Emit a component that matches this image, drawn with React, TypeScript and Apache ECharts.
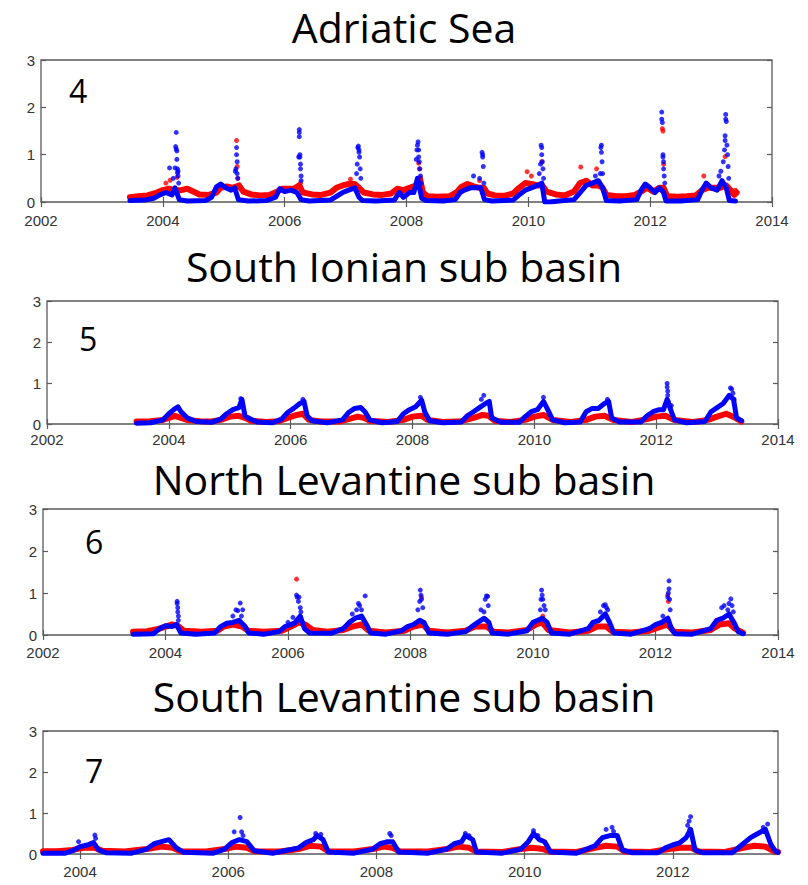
import React, { useEffect, useRef } from "react";
import * as echarts from "echarts";

type P = [number, number];

const panelTitles = ["Adriatic Sea", "South Ionian sub basin", "North Levantine sub basin", "South Levantine sub basin"];
const panelNumbers = ["4", "5", "6", "7"];
const yearTicksFull = [2002, 2004, 2006, 2008, 2010, 2012, 2014];
const yearTicksLast = [2004, 2006, 2008, 2010, 2012];

// ---- Adriatic Sea (4) ----
const adriaticRedBand: P[] = [[2003.46,0.1],[2003.6,0.12],[2003.75,0.14],[2003.9,0.2],[2004.0,0.25],[2004.1,0.28],[2004.2,0.25],[2004.3,0.25],[2004.4,0.28],[2004.5,0.22],[2004.6,0.16],[2004.75,0.15],[2004.88,0.2],[2004.95,0.3],[2005.05,0.33],[2005.15,0.3],[2005.25,0.35],[2005.32,0.22],[2005.45,0.16],[2005.6,0.14],[2005.75,0.15],[2005.88,0.22],[2005.95,0.28],[2006.05,0.28],[2006.15,0.28],[2006.24,0.35],[2006.3,0.2],[2006.45,0.16],[2006.6,0.15],[2006.75,0.2],[2006.85,0.3],[2006.95,0.35],[2007.05,0.38],[2007.15,0.38],[2007.22,0.3],[2007.3,0.2],[2007.45,0.16],[2007.6,0.15],[2007.75,0.18],[2007.85,0.28],[2007.95,0.25],[2008.05,0.3],[2008.15,0.35],[2008.22,0.5],[2008.27,0.2],[2008.35,0.12],[2008.5,0.11],[2008.7,0.12],[2008.82,0.2],[2008.9,0.32],[2009.0,0.38],[2009.1,0.33],[2009.2,0.3],[2009.27,0.3],[2009.33,0.18],[2009.45,0.14],[2009.6,0.13],[2009.75,0.18],[2009.85,0.3],[2009.95,0.4],[2010.05,0.38],[2010.15,0.35],[2010.23,0.35],[2010.3,0.22],[2010.45,0.16],[2010.6,0.14],[2010.75,0.22],[2010.85,0.4],[2010.95,0.45],[2011.05,0.35],[2011.15,0.35],[2011.22,0.3],[2011.28,0.15],[2011.45,0.12],[2011.6,0.12],[2011.75,0.15],[2011.85,0.22],[2011.95,0.3],[2012.05,0.22],[2012.15,0.3],[2012.22,0.3],[2012.28,0.12],[2012.45,0.11],[2012.6,0.12],[2012.75,0.14],[2012.85,0.25],[2012.95,0.3],[2013.05,0.3],[2013.15,0.3],[2013.25,0.35],[2013.32,0.25],[2013.38,0.15],[2013.42,0.2]];
const adriaticBlueBand: P[] = [[2003.46,0.03],[2003.7,0.04],[2003.85,0.08],[2003.95,0.15],[2004.05,0.2],[2004.15,0.15],[2004.2,0.3],[2004.27,0.05],[2004.4,0.02],[2004.7,0.03],[2004.8,0.1],[2004.88,0.32],[2004.95,0.38],[2005.03,0.3],[2005.12,0.25],[2005.18,0.3],[2005.24,0.05],[2005.4,0.02],[2005.7,0.03],[2005.85,0.1],[2005.92,0.28],[2006.0,0.22],[2006.1,0.25],[2006.2,0.2],[2006.27,0.05],[2006.4,0.02],[2006.75,0.04],[2006.85,0.12],[2006.95,0.2],[2007.05,0.25],[2007.15,0.3],[2007.22,0.1],[2007.28,0.03],[2007.5,0.02],[2007.8,0.04],[2007.88,0.2],[2007.95,0.1],[2008.05,0.2],[2008.12,0.2],[2008.18,0.5],[2008.25,0.08],[2008.32,0.03],[2008.6,0.02],[2008.8,0.05],[2008.88,0.2],[2008.95,0.25],[2009.05,0.3],[2009.15,0.3],[2009.22,0.3],[2009.28,0.05],[2009.4,0.02],[2009.75,0.04],[2009.85,0.15],[2009.95,0.25],[2010.05,0.3],[2010.15,0.35],[2010.22,0.4],[2010.27,0.0],[2010.35,0.0],[2010.5,0.02],[2010.75,0.05],[2010.85,0.2],[2010.95,0.35],[2011.05,0.4],[2011.15,0.45],[2011.22,0.3],[2011.28,0.03],[2011.5,0.02],[2011.78,0.05],[2011.85,0.25],[2011.92,0.38],[2012.0,0.3],[2012.08,0.2],[2012.15,0.3],[2012.22,0.2],[2012.26,0.02],[2012.5,0.02],[2012.78,0.05],[2012.85,0.25],[2012.92,0.4],[2013.0,0.3],[2013.1,0.25],[2013.18,0.45],[2013.25,0.3],[2013.3,0.03],[2013.4,0.02]];
const adriaticRedDots: P[] = [[2004.05,0.4],[2004.12,0.46],[2004.23,0.52],[2005.21,1.3],[2005.22,0.75],[2005.23,0.5],[2006.26,0.4],[2007.08,0.48],[2008.2,0.82],[2008.21,0.7],[2009.2,0.45],[2009.98,0.64],[2010.05,0.55],[2010.22,0.85],[2010.86,0.74],[2011.12,0.7],[2012.2,1.55],[2012.21,1.5],[2012.22,0.8],[2012.88,0.55],[2013.23,0.96],[2013.4,0.25]];
const adriaticBlueDots: P[] = [[2004.11,0.72],[2004.17,0.5],[2004.2,0.72],[2004.21,1.17],[2004.22,1.47],[2004.22,1.12],[2004.23,1.08],[2004.23,0.9],[2004.24,0.7],[2004.24,0.62],[2004.25,0.55],[2004.25,0.65],[2004.26,0.4],[2005.19,0.65],[2005.2,0.7],[2005.21,1.15],[2005.21,1.0],[2005.22,0.85],[2005.22,0.6],[2005.23,0.5],[2006.23,0.95],[2006.24,1.53],[2006.24,1.47],[2006.24,1.38],[2006.25,1.0],[2006.25,0.95],[2006.26,0.8],[2006.26,0.7],[2006.27,0.55],[2006.27,0.45],[2007.18,0.6],[2007.19,0.8],[2007.2,1.15],[2007.21,1.18],[2007.22,1.1],[2007.22,1.05],[2007.23,0.95],[2007.24,0.7],[2007.25,0.5],[2008.16,0.9],[2008.17,1.1],[2008.18,1.2],[2008.19,1.27],[2008.2,1.1],[2008.2,0.95],[2008.21,0.85],[2008.22,0.7],[2008.23,0.55],[2008.24,0.4],[2009.1,0.55],[2009.2,0.5],[2009.24,1.05],[2009.25,1.0],[2009.25,0.95],[2009.26,0.75],[2009.27,0.4],[2010.18,0.6],[2010.2,0.8],[2010.21,1.2],[2010.22,1.15],[2010.22,1.0],[2010.23,0.85],[2010.24,0.7],[2010.25,0.5],[2011.1,0.55],[2011.18,0.6],[2011.19,1.15],[2011.2,1.2],[2011.2,1.05],[2011.21,0.85],[2011.22,0.6],[2012.19,1.9],[2012.19,1.75],[2012.2,1.68],[2012.21,1.0],[2012.21,0.95],[2012.22,0.85],[2012.22,0.7],[2012.23,0.55],[2012.24,0.4],[2013.13,0.55],[2013.16,0.65],[2013.2,0.85],[2013.22,1.1],[2013.23,1.3],[2013.23,1.4],[2013.24,1.75],[2013.24,1.85],[2013.25,1.7],[2013.26,1.2],[2013.27,1.0],[2013.28,0.75],[2013.29,0.5]];

// ---- South Ionian sub basin (5) ----
const ionianRedBand: P[] = [[2003.47,0.06],[2003.7,0.07],[2003.9,0.1],[2004.0,0.15],[2004.1,0.2],[2004.2,0.15],[2004.3,0.1],[2004.5,0.07],[2004.7,0.06],[2004.85,0.1],[2005.0,0.18],[2005.15,0.2],[2005.25,0.15],[2005.35,0.08],[2005.6,0.05],[2005.8,0.07],[2005.95,0.15],[2006.1,0.22],[2006.2,0.25],[2006.3,0.1],[2006.5,0.06],[2006.8,0.06],[2006.95,0.12],[2007.1,0.18],[2007.2,0.15],[2007.3,0.08],[2007.6,0.05],[2007.85,0.1],[2008.0,0.18],[2008.15,0.2],[2008.25,0.1],[2008.5,0.05],[2008.8,0.07],[2009.0,0.15],[2009.15,0.22],[2009.25,0.2],[2009.35,0.08],[2009.6,0.05],[2009.85,0.1],[2010.0,0.18],[2010.15,0.22],[2010.3,0.1],[2010.6,0.05],[2010.85,0.1],[2011.0,0.18],[2011.15,0.2],[2011.3,0.1],[2011.6,0.05],[2011.85,0.12],[2012.0,0.18],[2012.15,0.2],[2012.3,0.1],[2012.6,0.05],[2012.85,0.1],[2013.0,0.18],[2013.15,0.25],[2013.3,0.15],[2013.4,0.06]];
const ionianBlueBand: P[] = [[2003.47,0.02],[2003.7,0.03],[2003.9,0.1],[2004.0,0.25],[2004.08,0.35],[2004.15,0.42],[2004.2,0.3],[2004.3,0.15],[2004.45,0.06],[2004.7,0.04],[2004.85,0.12],[2004.95,0.25],[2005.05,0.35],[2005.15,0.4],[2005.2,0.6],[2005.25,0.2],[2005.3,0.15],[2005.45,0.05],[2005.7,0.03],[2005.85,0.12],[2005.95,0.28],[2006.05,0.38],[2006.15,0.5],[2006.22,0.55],[2006.27,0.2],[2006.35,0.08],[2006.6,0.03],[2006.85,0.1],[2006.95,0.28],[2007.05,0.38],[2007.15,0.4],[2007.22,0.3],[2007.3,0.1],[2007.5,0.03],[2007.75,0.06],[2007.85,0.25],[2007.95,0.35],[2008.05,0.42],[2008.15,0.58],[2008.2,0.3],[2008.28,0.08],[2008.5,0.03],[2008.8,0.05],[2008.9,0.2],[2009.0,0.3],[2009.1,0.4],[2009.2,0.5],[2009.26,0.55],[2009.3,0.15],[2009.45,0.04],[2009.75,0.04],[2009.85,0.18],[2009.95,0.3],[2010.05,0.35],[2010.15,0.55],[2010.22,0.35],[2010.3,0.1],[2010.5,0.03],[2010.75,0.05],[2010.85,0.3],[2010.95,0.38],[2011.05,0.38],[2011.15,0.5],[2011.22,0.55],[2011.27,0.15],[2011.4,0.05],[2011.75,0.05],[2011.85,0.2],[2011.95,0.3],[2012.05,0.35],[2012.12,0.35],[2012.18,0.6],[2012.25,0.3],[2012.3,0.1],[2012.5,0.03],[2012.8,0.06],[2012.9,0.3],[2013.0,0.4],[2013.1,0.5],[2013.2,0.7],[2013.27,0.6],[2013.32,0.15],[2013.4,0.08]];
const ionianRedDots: P[] = [];
const ionianBlueDots: P[] = [[2005.18,0.62],[2006.2,0.6],[2008.13,0.65],[2009.13,0.6],[2009.17,0.7],[2010.15,0.65],[2011.2,0.6],[2012.18,0.99],[2012.18,0.9],[2012.19,0.8],[2012.19,0.7],[2012.2,0.55],[2012.25,0.45],[2013.22,0.88],[2013.24,0.85],[2013.26,0.75],[2013.28,0.6]];

// ---- North Levantine sub basin (6) ----
const nLevRedBand: P[] = [[2003.47,0.08],[2003.7,0.09],[2003.9,0.15],[2004.0,0.2],[2004.1,0.25],[2004.2,0.22],[2004.3,0.1],[2004.6,0.08],[2004.85,0.1],[2004.95,0.2],[2005.1,0.25],[2005.25,0.2],[2005.35,0.1],[2005.6,0.08],[2005.9,0.1],[2006.05,0.2],[2006.18,0.3],[2006.28,0.25],[2006.4,0.12],[2006.65,0.08],[2006.9,0.12],[2007.05,0.2],[2007.2,0.25],[2007.32,0.1],[2007.6,0.06],[2007.9,0.1],[2008.05,0.2],[2008.2,0.25],[2008.3,0.1],[2008.6,0.06],[2008.9,0.1],[2009.05,0.2],[2009.25,0.2],[2009.35,0.08],[2009.6,0.06],[2009.9,0.12],[2010.05,0.25],[2010.15,0.3],[2010.25,0.12],[2010.6,0.06],[2010.9,0.1],[2011.05,0.2],[2011.2,0.2],[2011.3,0.08],[2011.6,0.06],[2011.9,0.1],[2012.05,0.18],[2012.2,0.25],[2012.3,0.08],[2012.6,0.06],[2012.9,0.12],[2013.05,0.25],[2013.2,0.28],[2013.3,0.15],[2013.43,0.05]];
const nLevBlueBand: P[] = [[2003.47,0.02],[2003.8,0.03],[2003.9,0.15],[2004.0,0.22],[2004.1,0.2],[2004.18,0.25],[2004.25,0.05],[2004.5,0.02],[2004.8,0.05],[2004.9,0.2],[2005.0,0.28],[2005.1,0.3],[2005.2,0.35],[2005.3,0.2],[2005.36,0.05],[2005.6,0.02],[2005.85,0.08],[2005.95,0.2],[2006.05,0.25],[2006.12,0.3],[2006.2,0.45],[2006.27,0.15],[2006.35,0.05],[2006.7,0.04],[2006.9,0.15],[2007.0,0.3],[2007.1,0.4],[2007.2,0.45],[2007.28,0.25],[2007.35,0.05],[2007.6,0.02],[2007.85,0.1],[2007.95,0.2],[2008.05,0.25],[2008.15,0.35],[2008.22,0.3],[2008.3,0.05],[2008.6,0.02],[2008.9,0.08],[2009.0,0.2],[2009.1,0.3],[2009.2,0.4],[2009.28,0.3],[2009.33,0.05],[2009.6,0.02],[2009.9,0.1],[2010.0,0.3],[2010.08,0.35],[2010.15,0.4],[2010.23,0.3],[2010.3,0.05],[2010.6,0.02],[2010.9,0.15],[2010.98,0.3],[2011.08,0.35],[2011.18,0.5],[2011.25,0.3],[2011.32,0.05],[2011.6,0.02],[2011.9,0.15],[2012.0,0.25],[2012.1,0.3],[2012.2,0.4],[2012.26,0.15],[2012.32,0.03],[2012.6,0.02],[2012.9,0.15],[2013.0,0.35],[2013.1,0.4],[2013.2,0.5],[2013.28,0.3],[2013.35,0.08],[2013.43,0.03]];
const nLevRedDots: P[] = [[2006.14,1.33],[2008.18,0.9],[2010.16,0.45],[2012.2,0.95],[2012.21,0.8]];
const nLevBlueDots: P[] = [[2004.19,0.8],[2004.19,0.75],[2004.2,0.65],[2004.2,0.55],[2004.21,0.45],[2004.21,0.35],[2005.1,0.45],[2005.15,0.6],[2005.18,0.58],[2005.22,0.76],[2005.26,0.6],[2005.24,0.45],[2006.0,0.3],[2006.08,0.42],[2006.14,0.95],[2006.15,0.9],[2006.17,0.8],[2006.18,0.9],[2006.2,0.65],[2006.21,0.55],[2007.05,0.5],[2007.12,0.6],[2007.15,0.75],[2007.17,0.7],[2007.2,0.6],[2007.26,0.93],[2008.12,0.6],[2008.15,0.8],[2008.16,1.07],[2008.17,0.95],[2008.18,0.85],[2008.2,0.65],[2009.15,0.6],[2009.2,0.55],[2009.22,0.85],[2009.24,0.93],[2009.26,0.92],[2009.27,0.7],[2010.12,0.6],[2010.13,0.85],[2010.14,1.07],[2010.15,0.95],[2010.16,0.85],[2010.18,0.7],[2010.2,0.6],[2011.1,0.55],[2011.15,0.7],[2011.18,0.72],[2011.2,0.65],[2011.22,0.6],[2012.12,0.45],[2012.2,0.9],[2012.21,1.0],[2012.22,1.29],[2012.22,1.1],[2012.23,0.85],[2012.24,0.6],[2013.08,0.65],[2013.12,0.7],[2013.18,0.6],[2013.2,0.75],[2013.23,0.86],[2013.25,0.7],[2013.27,0.55]];

// ---- South Levantine sub basin (7) ----
const sLevRedBand: P[] = [[2003.5,0.07],[2003.7,0.07],[2003.9,0.1],[2004.05,0.15],[2004.2,0.15],[2004.3,0.08],[2004.6,0.06],[2004.9,0.12],[2005.1,0.18],[2005.25,0.15],[2005.35,0.07],[2005.7,0.06],[2005.95,0.12],[2006.1,0.18],[2006.25,0.15],[2006.35,0.07],[2006.7,0.06],[2006.95,0.12],[2007.1,0.2],[2007.25,0.18],[2007.35,0.07],[2007.7,0.06],[2007.95,0.12],[2008.1,0.18],[2008.22,0.15],[2008.32,0.06],[2008.7,0.06],[2008.95,0.12],[2009.1,0.18],[2009.25,0.15],[2009.35,0.06],[2009.7,0.05],[2009.95,0.12],[2010.1,0.15],[2010.25,0.12],[2010.35,0.06],[2010.7,0.05],[2010.95,0.15],[2011.1,0.2],[2011.25,0.18],[2011.35,0.06],[2011.7,0.05],[2011.95,0.12],[2012.1,0.15],[2012.25,0.15],[2012.35,0.06],[2012.7,0.05],[2012.95,0.15],[2013.1,0.2],[2013.25,0.18],[2013.35,0.08],[2013.42,0.05]];
const sLevBlueBand: P[] = [[2003.5,0.02],[2003.8,0.02],[2003.9,0.08],[2004.0,0.18],[2004.1,0.22],[2004.18,0.28],[2004.25,0.1],[2004.35,0.03],[2004.7,0.02],[2004.9,0.12],[2005.0,0.25],[2005.1,0.3],[2005.2,0.35],[2005.3,0.15],[2005.4,0.04],[2005.8,0.02],[2005.95,0.12],[2006.05,0.28],[2006.15,0.35],[2006.25,0.3],[2006.35,0.08],[2006.6,0.02],[2006.95,0.15],[2007.05,0.28],[2007.15,0.35],[2007.2,0.45],[2007.28,0.35],[2007.35,0.05],[2007.7,0.02],[2007.95,0.12],[2008.05,0.25],[2008.15,0.3],[2008.22,0.3],[2008.3,0.05],[2008.7,0.02],[2008.95,0.12],[2009.05,0.25],[2009.15,0.3],[2009.2,0.45],[2009.3,0.35],[2009.35,0.05],[2009.7,0.02],[2009.95,0.12],[2010.05,0.3],[2010.12,0.5],[2010.2,0.35],[2010.27,0.3],[2010.35,0.05],[2010.7,0.02],[2010.95,0.2],[2011.05,0.4],[2011.15,0.45],[2011.25,0.45],[2011.32,0.1],[2011.45,0.03],[2011.8,0.03],[2011.9,0.15],[2012.0,0.22],[2012.1,0.28],[2012.18,0.4],[2012.24,0.6],[2012.3,0.1],[2012.4,0.03],[2012.8,0.03],[2012.95,0.25],[2013.05,0.4],[2013.15,0.5],[2013.25,0.6],[2013.32,0.25],[2013.38,0.08],[2013.42,0.04]];
const sLevRedDots: P[] = [];
const sLevBlueDots: P[] = [[2003.98,0.3],[2004.2,0.46],[2004.21,0.38],[2006.08,0.54],[2006.16,0.89],[2006.18,0.54],[2006.2,0.45],[2007.18,0.5],[2007.25,0.48],[2008.18,0.5],[2008.2,0.45],[2009.2,0.5],[2009.25,0.45],[2010.12,0.57],[2010.18,0.45],[2011.1,0.6],[2011.18,0.65],[2011.2,0.55],[2012.2,0.7],[2012.22,0.8],[2012.24,0.91],[2012.23,0.6],[2013.22,0.65],[2013.28,0.73]];

const panelData = [
  { redBand: adriaticRedBand, blueBand: adriaticBlueBand, redDots: adriaticRedDots, blueDots: adriaticBlueDots },
  { redBand: ionianRedBand, blueBand: ionianBlueBand, redDots: ionianRedDots, blueDots: ionianBlueDots },
  { redBand: nLevRedBand, blueBand: nLevBlueBand, redDots: nLevRedDots, blueDots: nLevBlueDots },
  { redBand: sLevRedBand, blueBand: sLevBlueBand, redDots: sLevRedDots, blueDots: sLevBlueDots },
];

// layout (pixels)
const layout = [
  { left: 41, top: 60, width: 731, height: 142, xMin: 2002, xMax: 2014, ticks: yearTicksFull, titleTop: 6, numX: 69, numY: 74, labelMargin: 11 },
  { left: 47, top: 301, width: 731, height: 123, xMin: 2002, xMax: 2014, ticks: yearTicksFull, titleTop: 245, numX: 79, numY: 322, labelMargin: 8 },
  { left: 43, top: 509, width: 735, height: 126, xMin: 2002, xMax: 2014, ticks: yearTicksFull, titleTop: 458, numX: 85, numY: 525, labelMargin: 10 },
  { left: 43, top: 731, width: 735, height: 123, xMin: 2003.5, xMax: 2013.42, ticks: yearTicksLast, titleTop: 675, numX: 85, numY: 754, labelMargin: 10 },
];

const RED = "#ff0000";
const BLUE = "#0000ff";
const AXIS = "#5a5a5a";
const TITLE_FONT = "'Open Sans', 'Noto Sans', sans-serif";
const TICK_FONT = "'Liberation Sans', Arial, sans-serif";

export default function App() {
  const ref = useRef<HTMLDivElement>(null);
  useEffect(() => {
    if (!ref.current) return;
    const chart = echarts.init(ref.current, undefined, { renderer: "svg" });
    const grid: any[] = [];
    const xAxis: any[] = [];
    const yAxis: any[] = [];
    const series: any[] = [];
    const title: any[] = [];
    const graphic: any[] = [];
    layout.forEach((L, i) => {
      grid.push({ left: L.left, top: L.top, width: L.width, height: L.height, show: true, borderColor: AXIS, borderWidth: 1.3, backgroundColor: "#fff" });
      const common = {
        type: "value", gridIndex: i, min: L.xMin, max: L.xMax,
        axisLine: { show: false }, splitLine: { show: false },
      };
      xAxis.push({
        ...common, position: "bottom",
        axisTick: { show: true, inside: true, length: 5, lineStyle: { color: AXIS, width: 1.2 }, customValues: L.ticks },
        axisLabel: { show: true, customValues: L.ticks, margin: L.labelMargin, fontSize: 15, lineHeight: 15, color: "#333", fontFamily: TICK_FONT, formatter: (v: number) => String(Math.round(v)) },
      });
      xAxis.push({
        ...common, position: "top",
        axisTick: { show: true, inside: true, length: 5, lineStyle: { color: AXIS, width: 1.2 }, customValues: L.ticks },
        axisLabel: { show: false },
      });
      const yCommon = { type: "value", gridIndex: i, min: 0, max: 3, interval: 1, axisLine: { show: false }, splitLine: { show: false } };
      yAxis.push({
        ...yCommon, position: "left",
        axisTick: { show: true, inside: true, length: 5, lineStyle: { color: AXIS, width: 1.2 } },
        axisLabel: { show: true, margin: 6, fontSize: 15, color: "#333", fontFamily: TICK_FONT, formatter: (v: number) => String(v) },
      });
      yAxis.push({
        ...yCommon, position: "right",
        axisTick: { show: true, inside: true, length: 5, lineStyle: { color: AXIS, width: 1.2 } },
        axisLabel: { show: false },
      });
      const d = panelData[i];
      const xi = i * 2;
      const yi = i * 2;
      series.push({
        type: "line", xAxisIndex: xi, yAxisIndex: yi, data: d.redBand, showSymbol: false, symbol: "none",
        lineStyle: { color: RED, width: 6, join: "round", cap: "round" }, z: 2, silent: true,
      });
      series.push({
        type: "scatter", xAxisIndex: xi, yAxisIndex: yi, data: d.redDots, symbolSize: 5,
        itemStyle: { color: RED }, z: 3, silent: true,
      });
      series.push({
        type: "line", xAxisIndex: xi, yAxisIndex: yi, data: d.blueBand, showSymbol: false, symbol: "none",
        lineStyle: { color: BLUE, width: 5, join: "round", cap: "round" }, z: 4, silent: true,
      });
      series.push({
        type: "scatter", xAxisIndex: xi, yAxisIndex: yi, data: d.blueDots, symbolSize: 5,
        itemStyle: { color: BLUE }, z: 5, silent: true,
      });
      title.push({
        text: panelTitles[i], left: "center", top: L.titleTop, padding: 0,
        textStyle: { fontSize: 41, fontWeight: "normal", color: "#000", fontFamily: TITLE_FONT },
      });
      graphic.push({
        type: "text", left: L.numX, top: L.numY, z: 100,
        style: { text: panelNumbers[i], fontSize: 32, fill: "#000", fontFamily: TITLE_FONT },
      });
    });
    chart.setOption({
      animation: false,
      backgroundColor: "#fff",
      title, grid, xAxis, yAxis, series, graphic,
    });
    return () => chart.dispose();
  }, []);
  return <div ref={ref} style={{ position: "absolute", left: 0, top: 0, width: 808, height: 885 }} />;
}
